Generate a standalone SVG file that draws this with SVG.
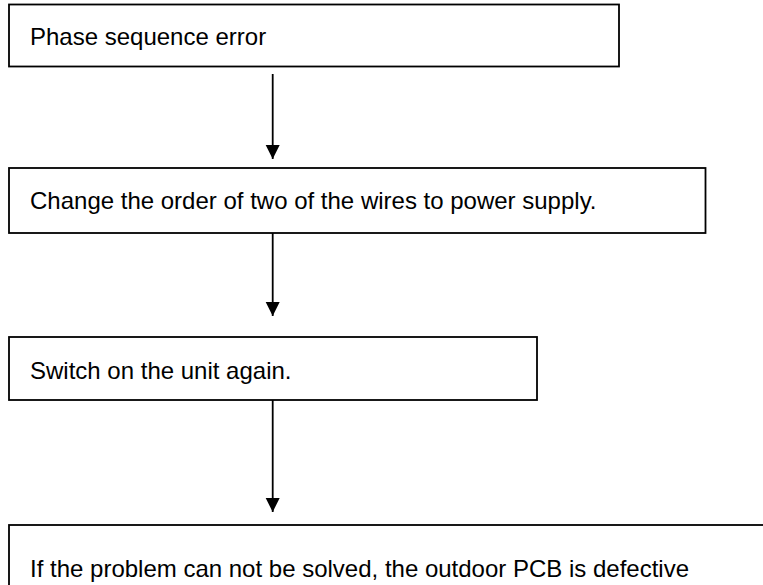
<svg xmlns="http://www.w3.org/2000/svg" width="763" height="585" viewBox="0 0 763 585">
  <style>
    .box { fill: #ffffff; stroke: #000000; stroke-width: 1.8; }
    .label { font-family: "Liberation Sans", Arial, sans-serif; font-size: 24px; fill: #000000; }
    .link { stroke: #000000; stroke-width: 1.8; fill: none; }
  </style>
  <defs>
    <marker id="arrowhead" markerUnits="userSpaceOnUse" markerWidth="14" markerHeight="15" refX="14" refY="7" orient="auto">
      <path d="M0,0 L14,7 L0,14 Z" fill="#000000"/>
    </marker>
  </defs>
  <rect width="763" height="585" fill="#ffffff"/>

  <g id="connectors">
    <line class="link" x1="272.7" y1="74" x2="272.7" y2="159" marker-end="url(#arrowhead)"/>
    <line class="link" x1="272.7" y1="233" x2="272.7" y2="316" marker-end="url(#arrowhead)"/>
    <line class="link" x1="272.7" y1="400" x2="272.7" y2="512" marker-end="url(#arrowhead)"/>
  </g>

  <g id="node-phase-error">
    <rect class="box" x="9" y="4.5" width="610" height="62"/>
    <text class="label" x="30" y="45">Phase sequence error</text>
  </g>

  <g id="node-swap-wires">
    <rect class="box" x="9" y="168" width="696.5" height="65"/>
    <text class="label" x="30" y="208.5">Change the order of two of the wires to power supply.</text>
  </g>

  <g id="node-switch-on">
    <rect class="box" x="9" y="337" width="528" height="63"/>
    <text class="label" x="30" y="378.5">Switch on the unit again.</text>
  </g>

  <g id="node-pcb-defective">
    <rect class="box" x="9" y="525" width="770" height="80"/>
    <text class="label" x="30" y="577">If the problem can not be solved, the outdoor PCB is defective</text>
  </g>
</svg>
